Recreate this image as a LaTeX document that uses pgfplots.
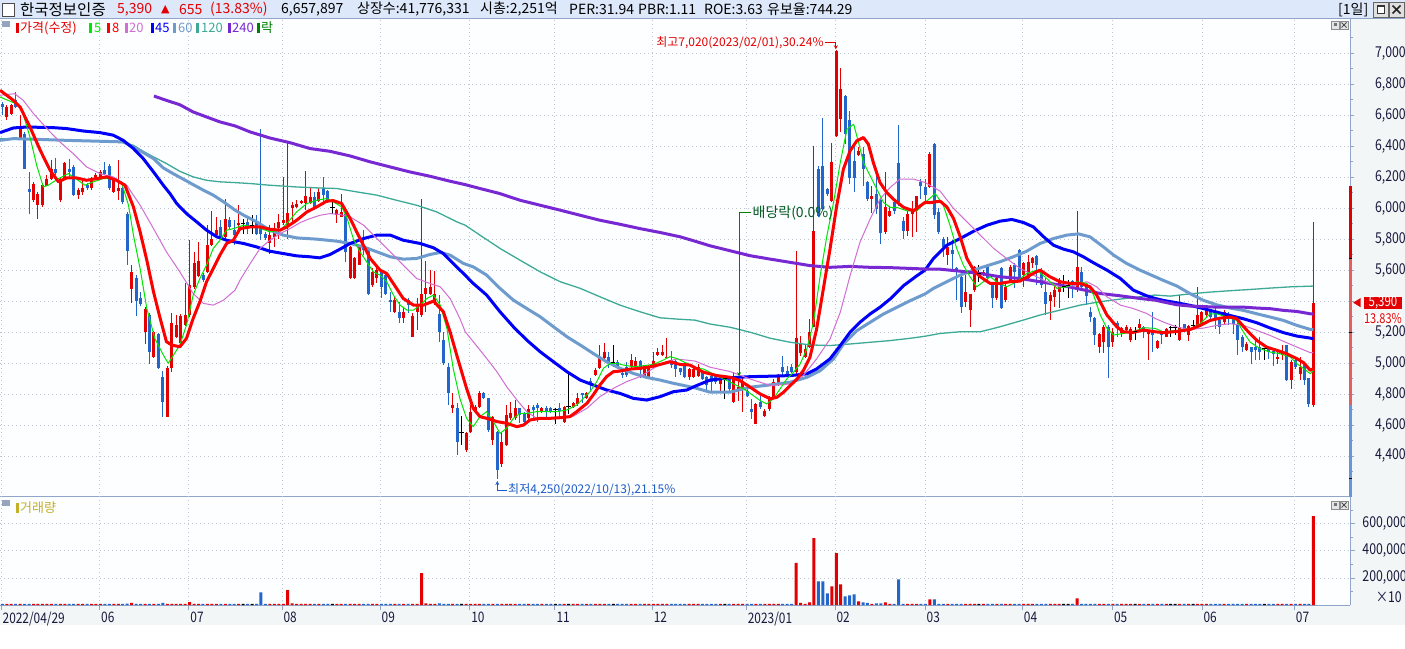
\documentclass[border=0pt]{standalone}
\usepackage{pgfplots}
\pgfplotsset{compat=1.18}
\usepackage{pgfplotstable}
\usetikzlibrary{arrows.meta}
\usepackage{fontspec}
\setmainfont{Noto Sans CJK KR}[FakeStretch=0.82]
\newfontfamily\hf{Noto Sans CJK KR}
\newfontfamily\sym{DejaVu Sans}
\newcommand\fs[1]{\fontsize{#1}{#1}\selectfont}
\definecolor{cred}{RGB}{228,0,0}
\definecolor{cblue}{RGB}{34,102,204}
\definecolor{maG}{RGB}{0,230,0}
\definecolor{maR}{RGB}{255,0,0}
\definecolor{maV}{RGB}{210,110,210}
\definecolor{maB}{RGB}{0,0,250}
\definecolor{maS}{RGB}{110,155,205}
\definecolor{maT}{RGB}{60,170,150}
\definecolor{maP}{RGB}{120,40,210}
\definecolor{gridc}{RGB}{190,196,206}
\definecolor{border}{RGB}{145,165,200}
\definecolor{headbg}{RGB}{221,232,250}
\definecolor{sidebg}{RGB}{242,246,247}
\definecolor{plotbg}{RGB}{252,254,255}
\definecolor{ticktext}{RGB}{25,25,60}
\definecolor{volgold}{RGB}{195,175,40}
\definecolor{annG}{RGB}{0,128,0}
\definecolor{annGT}{RGB}{0,90,30}
\definecolor{annB}{RGB}{30,90,200}
\definecolor{legsq}{RGB}{150,165,190}
\definecolor{limR}{RGB}{220,0,0}
\definecolor{limL}{RGB}{225,95,95}
\definecolor{limB}{RGB}{100,150,220}

\pgfplotstableread{
i o h l c v
1 6589 6664 6567 6653 8000
2 6610 6675 6600 6664 8000
4 6449 6599 6449 6524 8000
7 6051 6170 6040 6159 8000
8 6019 6105 5933 6094 8000
9 6019 6160 6010 6152 8000
10 6144 6212 6140 6191 8000
11 6191 6309 6185 6255 8000
13 6051 6200 6040 6191 8000
14 6191 6300 6185 6292 8000
17 6088 6127 6062 6116 8000
18 6105 6180 6084 6127 8000
20 6127 6200 6120 6191 8000
21 6191 6225 6185 6217 8000
22 6202 6245 6195 6234 8000
25 6105 6185 6095 6180 8000
26 6109 6314 6051 6127 8000
29 5477 5632 5385 5589 15000
32 5198 5360 5120 5352 8000
34 5039 5210 5030 5202 8000
37 4654 4980 4654 4965 8000
38 4965 5320 4944 5256 8000
39 5170 5310 5160 5245 8000
40 5127 5315 5120 5305 8000
41 5245 5514 5240 5310 8000
42 5310 5793 5300 5507 22000
43 5492 5718 5480 5643 8000
44 5563 5782 5555 5658 8000
46 5589 5890 5580 5765 8000
47 5761 5980 5755 5798 8000
48 5826 5944 5820 5858 8000
50 5815 6062 5805 5933 8000
53 5890 6023 5836 5907 8000
60 5772 5890 5707 5825 8000
61 5815 5901 5750 5868 8000
62 5875 5965 5804 5911 8000
63 5907 6202 5890 5924 8000
64 5890 6427 5804 5970 109000
65 6002 6041 5912 6019 12000
66 6008 6051 6000 6028 8000
67 6036 6055 6030 6045 8000
68 6036 6238 5987 6077 8000
69 6036 6127 6030 6073 8000
71 6045 6127 6040 6105 8000
75 5959 5995 5907 5987 8000
76 5944 6094 5940 5976 8000
78 5550 5755 5545 5750 8000
79 5550 5685 5545 5679 8000
80 5636 5755 5630 5750 8000
83 5503 5611 5492 5589 8000
84 5546 5632 5520 5600 8000
88 5331 5428 5320 5406 8000
90 5292 5363 5256 5331 8000
92 5170 5320 5165 5303 8000
93 5331 5417 5213 5374 8000
94 5310 6062 5299 5443 235000
95 5449 5658 5331 5482 12000
96 5449 5600 5440 5492 8000
97 5396 5593 5374 5443 8000
101 4707 4804 4675 4729 8000
104 4439 4555 4428 4546 8000
105 4557 4729 4550 4686 8000
106 4686 4729 4680 4718 8000
107 4718 4819 4710 4804 8000
110 4503 4660 4471 4654 8000
112 4346 4557 4331 4492 8000
113 4471 4729 4465 4664 8000
114 4643 4750 4635 4675 8000
115 4643 4761 4635 4708 8000
118 4643 4729 4635 4701 8000
121 4686 4715 4680 4708 8000
126 4622 4725 4611 4718 8000
128 4718 4750 4710 4740 8000
129 4733 4804 4725 4772 8000
131 4772 4815 4765 4804 8000
133 4922 4966 4915 4955 8000
134 4966 5116 4960 5041 8000
135 5030 5127 5020 5073 8000
141 4976 5056 4970 5019 8000
142 4976 5041 4970 5013 8000
144 4912 4987 4905 4983 8000
145 4912 4990 4905 4983 8000
146 4976 5073 4970 5015 8000
147 5051 5095 5045 5073 8000
148 5051 5116 5045 5073 8000
149 5030 5163 5025 5041 8000
154 4912 4970 4890 4959 8000
155 4912 4970 4905 4961 8000
156 4919 4994 4912 4973 8000
161 4865 4919 4812 4897 8000
164 4747 4940 4745 4897 8000
165 4822 4908 4758 4844 8000
166 4833 4908 4682 4876 8000
169 4607 4740 4605 4736 8000
171 4661 4704 4650 4693 8000
172 4704 4790 4693 4779 8000
173 4779 4897 4770 4876 8000
174 4855 4930 4850 4919 8000
178 4940 5725 4930 5160 311000
179 5065 5177 5048 5123 15000
180 5037 5123 5030 5091 8000
181 5102 5285 5095 5199 20000
182 5231 6402 5231 5854 494000
186 6048 6424 6040 6295 138000
187 6467 7020 6460 7015 383000
188 6575 6908 6489 6768 153000
192 6342 6392 6335 6366 27000
195 6058 6145 5972 6080 8000
198 5844 6231 5833 6005 20000
199 5951 6015 5945 5983 8000
203 5854 5983 5822 5962 8000
204 5962 6048 5811 5994 8000
205 5983 6080 5844 6076 8000
208 6137 6360 6127 6352 42000
212 5697 5815 5632 5750 8000
216 5396 5568 5363 5456 8000
217 5342 5449 5234 5443 8000
218 5471 5625 5460 5621 8000
220 5568 5600 5560 5589 8000
223 5417 5557 5406 5546 8000
225 5406 5525 5396 5492 8000
226 5525 5632 5514 5621 8000
229 5568 5654 5492 5643 8000
230 5546 5697 5540 5654 8000
231 5643 5686 5611 5675 8000
235 5400 5460 5277 5439 8000
236 5428 5514 5363 5471 8000
237 5460 5546 5357 5525 8000
241 5471 5983 5460 5621 49000
246 5105 5191 5062 5185 8000
247 5138 5245 5062 5234 8000
249 5138 5228 5105 5202 8000
251 5191 5234 5170 5224 8000
252 5213 5245 5205 5234 8000
253 5148 5234 5138 5219 8000
255 5228 5284 5202 5249 8000
257 5185 5213 5019 5202 8000
259 5097 5146 5092 5140 8000
261 5168 5225 5165 5222 8000
264 5146 5437 5140 5232 8000
266 5178 5243 5140 5239 8000
268 5239 5490 5232 5312 8000
269 5243 5335 5238 5329 8000
270 5308 5350 5300 5346 8000
274 5264 5340 5243 5329 8000
279 5082 5135 5075 5125 8000
286 5028 5071 4996 5039 8000
287 5054 5114 5017 5071 8000
289 4888 5017 4830 5006 8000
291 4931 5039 4888 4974 8000
294 4730 5910 4716 5390 657000
}\redT

\pgfplotstableread{
i o h l c v
0 6675 6685 6600 6653 8000
3 6696 6750 6645 6653 8000
5 6481 6490 6255 6255 8000
6 6126 6234 5965 6105 8000
12 6255 6324 6212 6230 8000
15 6255 6320 6202 6234 8000
16 6266 6277 6084 6088 8000
19 6148 6160 6120 6131 8000
23 6245 6298 6212 6223 8000
24 6273 6285 6120 6127 8000
27 6127 6135 6030 6040 8000
28 5965 5976 5636 5722 10000
30 5546 5568 5305 5400 8000
31 5423 5460 5370 5380 8000
33 5309 5320 4993 5073 8000
35 5185 5195 4960 4970 8000
36 4912 4948 4654 4750 15000
45 5568 5580 5525 5535 8000
49 5879 5922 5805 5815 8000
51 5922 5940 5860 5879 8000
52 5858 5922 5761 5825 8000
55 5912 5944 5836 5879 8000
57 5907 5955 5830 5836 8000
58 5873 6513 5793 5836 94000
59 5836 5845 5793 5808 8000
70 6073 6105 5990 5998 8000
72 6131 6202 6019 6084 8000
73 6109 6120 6036 6045 8000
77 5965 5998 5653 5714 8000
81 5761 5858 5697 5729 8000
82 5722 5730 5439 5449 8000
85 5589 5600 5417 5492 8000
86 5568 5575 5439 5449 8000
87 5406 5460 5331 5396 8000
89 5331 5396 5256 5292 8000
91 5406 5417 5320 5374 8000
98 5314 5439 5137 5202 12000
99 5148 5202 4987 4998 8000
100 4976 4998 4729 4804 8000
102 4707 4740 4406 4492 8000
108 4808 4815 4765 4772 8000
109 4772 4775 4557 4568 8000
111 4553 4560 4250 4310 8000
116 4708 4712 4611 4665 8000
117 4675 4686 4611 4622 8000
119 4718 4729 4643 4697 8000
120 4729 4740 4622 4708 8000
122 4712 4720 4643 4686 8000
123 4708 4715 4680 4686 8000
125 4712 4740 4654 4690 8000
130 4804 4808 4740 4794 8000
132 4884 4901 4826 4869 8000
136 5041 5073 4966 4998 8000
138 5008 5019 4960 4966 8000
139 4938 4966 4901 4922 8000
140 4976 5008 4912 4922 8000
143 5013 5019 4901 4955 8000
150 5019 5077 4966 4987 8000
151 5013 5019 4912 4961 8000
152 4966 4970 4922 4944 8000
153 4998 5008 4905 4912 8000
157 4940 4950 4890 4897 8000
158 4908 4915 4812 4855 8000
159 4919 4925 4812 4876 8000
160 4919 4930 4865 4876 8000
163 4908 4919 4812 4833 8000
167 4822 4833 4779 4790 8000
168 4704 4769 4640 4683 8000
170 4747 4790 4704 4715 8000
175 4973 5048 4919 4940 8000
176 4951 4984 4919 4930 8000
177 4973 4994 4935 4940 8000
183 6252 6274 5940 5951 175000
184 6274 6585 5990 5994 175000
185 6123 6130 6080 6091 86000
189 6725 6730 6413 6478 64000
190 6570 6628 6155 6198 72000
191 6306 6392 6102 6198 79000
193 6349 6392 6145 6252 20000
194 6166 6177 6048 6058 15000
196 6091 6252 5962 5994 12000
197 6054 6058 5768 5839 12000
200 6037 6048 5962 5983 8000
201 6291 6538 6015 6037 190000
202 5919 5940 5800 5854 8000
206 6166 6188 6058 6145 8000
207 6137 6191 6030 6084 8000
209 6417 6420 5933 5954 42000
210 5976 5998 5836 5847 8000
211 5804 5815 5686 5750 8000
213 5729 5793 5600 5707 8000
214 5615 5621 5406 5589 8000
215 5557 5568 5320 5363 8000
221 5621 5625 5535 5546 8000
222 5503 5514 5353 5417 8000
224 5615 5621 5350 5353 8000
227 5632 5643 5482 5589 8000
228 5729 5735 5525 5535 8000
232 5692 5697 5503 5632 8000
233 5600 5611 5482 5503 8000
234 5460 5546 5310 5378 8000
240 5529 5535 5417 5514 8000
242 5585 5621 5471 5492 8000
243 5492 5503 5374 5434 8000
244 5331 5363 5267 5299 8000
245 5292 5299 5116 5181 8000
248 5234 5245 4905 5105 8000
250 5256 5271 5170 5224 8000
256 5234 5238 5159 5202 8000
258 5204 5329 5071 5179 8000
260 5200 5204 5125 5183 8000
265 5249 5252 5200 5211 8000
271 5340 5344 5286 5297 8000
272 5333 5376 5221 5275 8000
273 5275 5286 5189 5232 8000
275 5312 5329 5243 5286 8000
276 5297 5308 5189 5254 8000
277 5254 5264 5054 5146 8000
278 5168 5178 5071 5103 8000
280 5103 5105 4996 5071 8000
281 5103 5157 5017 5082 8000
282 5103 5168 5017 5071 8000
284 5103 5105 5028 5071 8000
285 5077 5097 4981 5056 8000
288 5114 5118 4885 4888 8000
290 5017 5028 4964 4974 8000
292 4985 5006 4856 4888 8000
293 4903 4905 4716 4735 8000
}\blueT

\pgfplotstableread{
i c h l v
54 5901 5933 5836 8000
56 5890 5955 5836 8000
74 6004 6051 5965 8000
103 4553 4660 4471 8000
124 4701 4708 4604 8000
127 4718 4933 4669 8000
137 5002 5116 4976 8000
162 4897 4908 4769 8000
219 5578 5632 5525 8000
238 5492 5568 5460 8000
239 5499 5535 5417 8000
254 5202 5234 5148 8000
262 5228 5239 5168 8000
263 5232 5243 5178 8000
267 5243 5275 5232 8000
283 5092 5095 5017 8000
}\dojiT

\begin{document}
\begin{tikzpicture}[x=1pt,y=1pt]
\useasboundingbox (0,0) rectangle (1405,648);
\fill[white] (0,0) rectangle (1405,648);
\fill[plotbg] (0,43) rectangle (1350,629);
\fill[sidebg] (1350,23) rectangle (1405,629);
\fill[sidebg] (0,23) rectangle (1350,43);
\fill[headbg] (0,629) rectangle (1405,648);
% frame lines (drawn first, below the plots)
\draw[border, line width=1pt] (0,151) -- (1350,151);
\draw[border, line width=1pt] (0,43) -- (1350,43);
\draw[border, line width=1pt] (1350,43) -- (1350,629);
\draw[border, line width=1pt] (0,629) -- (1405,629);

% ---------------- price panel
\begin{axis}[at={(0pt,151pt)}, anchor=south west, scale only axis,
  width=1350pt, height=478pt,
  xmin=-0.52, xmax=302.2, ymin=4135, ymax=7221.5, clip=false,
  axis line style={draw=none},
  xtick={-0.3,21.8,41.8,62.7,84.7,104.8,123.9,145.7,166.8,186.7,206.9,228.7,248.9,269.0,289.7},
  xticklabels={}, xmajorgrids, ymajorgrids,
  ytick={4400,4600,...,7000}, minor ytick={4300,4500,...,7100},
  yticklabels={4{,}400,4{,}600,4{,}800,5{,}000,5{,}200,{},5{,}600,5{,}800,6{,}000,6{,}200,6{,}400,6{,}600,6{,}800,7{,}000},
  xtick pos=bottom, ytick pos=right, tick align=outside, major tick length=4pt, minor tick length=3pt,
  tick style={border, line width=0.8pt},
  major x tick style={draw=none},
  yticklabel style={anchor=east, inner sep=0pt, xshift=52pt, font=\fs{15}, text=ticktext},
  grid style={gridc, line width=0.8pt, dash pattern=on 0.8pt off 3.2pt},
  every axis plot/.append style={line join=round},
]
% candles: wicks and bodies
\addplot[draw=none, mark=none, forget plot, error bars/.cd, y dir=both, y explicit, error mark=none,
  error bar style={draw=cred, line width=1pt}]
  table[x=i, y=c, y error plus expr=\thisrow{h}-\thisrow{c}, y error minus expr=\thisrow{c}-\thisrow{l}]{\redT};
\addplot[draw=none, mark=none, forget plot, error bars/.cd, y dir=minus, y explicit, error mark=none,
  error bar style={draw=cred, line width=3pt}]
  table[x=i, y=c, y error minus expr=\thisrow{c}-\thisrow{o}]{\redT};
\addplot[draw=none, mark=none, forget plot, error bars/.cd, y dir=both, y explicit, error mark=none,
  error bar style={draw=cblue, line width=1pt}]
  table[x=i, y=c, y error plus expr=\thisrow{h}-\thisrow{c}, y error minus expr=\thisrow{c}-\thisrow{l}]{\blueT};
\addplot[draw=none, mark=none, forget plot, error bars/.cd, y dir=plus, y explicit, error mark=none,
  error bar style={draw=cblue, line width=3pt}]
  table[x=i, y=c, y error plus expr=\thisrow{o}-\thisrow{c}]{\blueT};
\addplot[only marks, mark=-, mark size=2.2pt, mark options={black, line width=1pt}, forget plot,
  error bars/.cd, y dir=both, y explicit, error mark=none, error bar style={draw=black, line width=1pt}]
  table[x=i, y=c, y error plus expr=\thisrow{h}-\thisrow{c}, y error minus expr=\thisrow{c}-\thisrow{l}]{\dojiT};

% moving averages
\addplot[maT, line width=1.3pt, mark=none] coordinates {(-0.5,6449)(7.0,6445)(14.4,6438)(21.9,6432)(27.1,6423)(29.4,6406)(31.6,6367)(33.9,6331)(36.8,6288)(39.8,6238)(42.8,6202)(45.8,6180)(48.8,6170)(52.2,6165)(55.6,6159)(60.0,6148)(66.0,6137)(70.5,6131)(75.0,6127)(79.5,6105)(84.0,6084)(88.4,6051)(92.9,6019)(97.4,5976)(101.9,5912)(103.8,5890)(107.1,5826)(111.6,5740)(116.1,5664)(120.6,5589)(125.1,5525)(129.6,5482)(134.0,5428)(138.5,5374)(143.0,5331)(147.5,5292)(151.2,5284)(155.3,5277)(158.7,5252)(163.2,5231)(167.7,5199)(172.2,5160)(176.7,5134)(181.1,5117)(185.6,5113)(190.1,5123)(194.6,5134)(199.1,5145)(203.6,5160)(206.9,5173)(210.3,5191)(214.8,5202)(219.3,5202)(223.7,5234)(228.2,5271)(232.7,5310)(237.2,5342)(241.7,5374)(246.2,5396)(250.7,5413)(255.1,5428)(258.5,5439)(261.9,5432)(266.4,5447)(270.8,5458)(275.3,5467)(279.8,5475)(284.3,5484)(288.8,5492)(294.0,5497)};
\addplot[maS, line width=3pt, mark=none] coordinates {(-0.5,6438)(2.5,6449)(7.0,6445)(14.4,6438)(21.9,6432)(27.1,6428)(29.4,6395)(31.6,6359)(33.9,6320)(36.1,6260)(38.3,6223)(40.6,6187)(42.8,6152)(45.1,6116)(47.3,6084)(49.6,6041)(52.2,5987)(54.1,5955)(57.0,5912)(60.0,5858)(63.0,5826)(66.0,5808)(70.5,5800)(75.0,5787)(78.0,5772)(81.0,5750)(84.0,5718)(87.0,5686)(89.9,5671)(92.9,5675)(95.9,5701)(98.2,5714)(100.4,5697)(103.4,5643)(105.6,5621)(108.6,5568)(111.6,5482)(114.6,5406)(117.6,5352)(120.6,5299)(123.6,5234)(126.6,5170)(129.6,5116)(132.5,5062)(135.5,5008)(138.5,4966)(141.5,4933)(144.5,4907)(147.5,4890)(150.5,4869)(155.3,4840)(158.7,4812)(163.2,4812)(167.7,4844)(172.2,4859)(176.7,4876)(180.4,4908)(183.4,4951)(186.4,5027)(188.6,5123)(191.6,5209)(194.6,5263)(197.6,5317)(200.6,5360)(203.6,5403)(206.9,5446)(208.8,5482)(211.8,5525)(214.8,5568)(217.8,5600)(220.8,5628)(223.7,5654)(226.7,5686)(229.7,5722)(232.7,5772)(235.7,5804)(238.7,5826)(241.3,5834)(243.9,5815)(246.9,5750)(249.2,5697)(252.1,5643)(255.1,5600)(258.5,5557)(260.4,5533)(263.4,5497)(266.4,5447)(269.4,5404)(272.3,5376)(275.3,5355)(278.3,5340)(281.3,5318)(284.3,5297)(287.3,5275)(290.3,5243)(293.3,5217)(294.0,5217)};
\addplot[maB, line width=3pt, mark=none] coordinates {(-0.5,6488)(2.5,6518)(5.5,6524)(11.4,6520)(14.4,6514)(18.2,6498)(21.9,6488)(24.9,6471)(27.1,6438)(29.4,6385)(31.6,6320)(33.9,6234)(36.1,6148)(37.6,6094)(39.1,6030)(41.3,5965)(43.6,5911)(45.8,5858)(48.1,5815)(50.3,5793)(52.2,5782)(54.1,5772)(57.0,5750)(60.0,5722)(63.0,5707)(66.0,5692)(69.0,5686)(71.2,5679)(73.5,5701)(75.7,5735)(78.0,5772)(81.0,5804)(84.0,5826)(87.0,5826)(89.9,5793)(93.7,5772)(96.7,5744)(98.9,5707)(101.1,5643)(103.4,5578)(105.6,5514)(108.6,5439)(111.6,5331)(114.6,5234)(117.6,5148)(120.6,5073)(123.6,5008)(126.6,4944)(129.6,4890)(132.5,4858)(135.5,4826)(138.5,4804)(141.5,4772)(144.5,4761)(147.5,4783)(150.5,4815)(153.5,4826)(155.3,4850)(158.7,4890)(163.2,4905)(167.7,4912)(172.2,4915)(176.7,4919)(180.4,4930)(182.6,4962)(185.6,5027)(187.9,5113)(190.1,5199)(192.3,5263)(194.6,5317)(196.8,5360)(199.1,5414)(202.1,5500)(205.1,5564)(206.9,5600)(208.8,5675)(211.8,5761)(214.8,5804)(217.8,5851)(220.8,5890)(223.7,5916)(226.4,5927)(229.0,5907)(231.2,5879)(233.5,5815)(235.7,5761)(238.0,5735)(240.2,5718)(242.4,5686)(244.7,5647)(247.7,5600)(250.7,5546)(253.6,5471)(256.6,5434)(258.5,5417)(260.4,5404)(263.4,5389)(266.4,5372)(269.4,5351)(272.3,5329)(275.3,5307)(278.3,5286)(281.3,5260)(284.3,5226)(287.3,5196)(290.3,5174)(293.3,5161)(294.0,5157)};
\addplot[maP, line width=3pt, mark=none] coordinates {(34.0,6724)(36.8,6696)(39.8,6668)(42.8,6621)(45.8,6589)(48.8,6557)(52.2,6531)(55.6,6492)(60.0,6453)(64.5,6423)(69.0,6385)(73.5,6367)(78.0,6337)(82.5,6299)(87.0,6266)(91.4,6234)(95.9,6206)(100.4,6174)(103.8,6152)(107.1,6127)(111.6,6094)(116.1,6051)(120.6,6019)(125.1,5987)(129.6,5954)(134.0,5922)(138.5,5896)(143.0,5868)(147.5,5843)(152.0,5815)(155.3,5787)(158.7,5757)(163.2,5725)(167.7,5693)(172.2,5671)(176.7,5650)(181.1,5629)(185.6,5618)(190.1,5624)(194.6,5618)(199.1,5616)(203.6,5611)(206.9,5607)(210.3,5606)(214.8,5593)(219.3,5578)(223.7,5557)(228.2,5546)(232.7,5525)(237.2,5503)(241.7,5477)(246.2,5449)(250.7,5434)(255.1,5417)(258.5,5406)(260.4,5394)(263.4,5376)(266.4,5368)(272.3,5361)(278.3,5361)(281.3,5355)(284.3,5351)(287.3,5340)(290.3,5333)(293.3,5318)(294.0,5318)};
\addplot[maV, line width=1pt, mark=none] coordinates {(-0.5,6729)(2.8,6739)(4.7,6696)(7.0,6610)(10.0,6514)(12.9,6428)(15.9,6352)(18.9,6266)(21.9,6223)(24.9,6202)(27.9,6148)(30.9,6019)(33.9,5868)(36.8,5718)(39.8,5589)(42.8,5449)(45.1,5385)(47.3,5374)(49.6,5406)(52.2,5471)(53.3,5535)(55.6,5643)(57.8,5740)(60.0,5793)(62.3,5836)(64.5,5868)(66.8,5907)(69.0,5933)(71.2,5954)(73.5,5965)(75.7,5959)(78.0,5944)(81.0,5890)(84.0,5804)(87.0,5718)(89.9,5632)(92.9,5546)(95.9,5514)(98.2,5492)(100.4,5417)(102.6,5288)(103.8,5202)(105.6,5138)(108.6,5030)(110.9,4944)(113.1,4847)(115.4,4761)(117.6,4686)(119.8,4643)(122.1,4639)(125.1,4654)(128.1,4658)(131.1,4708)(134.0,4783)(137.0,4836)(140.0,4880)(143.0,4912)(146.0,4966)(149.0,5008)(151.2,5026)(155.3,5013)(158.7,4973)(163.2,4945)(167.7,4897)(172.2,4855)(176.7,4865)(179.6,4919)(182.6,5027)(185.6,5155)(187.9,5328)(190.1,5564)(192.3,5779)(194.6,5930)(196.8,6058)(199.1,6134)(201.3,6188)(204.3,6188)(206.9,6166)(210.3,6110)(213.3,5998)(216.3,5912)(219.3,5826)(222.3,5740)(225.2,5675)(228.2,5611)(231.2,5568)(234.2,5525)(237.2,5492)(240.2,5499)(243.2,5525)(245.4,5492)(247.7,5428)(250.7,5374)(253.6,5352)(256.6,5320)(258.5,5288)(260.4,5264)(263.4,5232)(266.4,5217)(269.4,5226)(272.3,5243)(275.3,5254)(278.3,5243)(281.3,5211)(284.3,5178)(287.3,5140)(290.3,5103)(293.3,5067)(294.0,5067)};
\addplot[maG, line width=1pt, mark=none] coordinates {(-0.5,6718)(3.0,6675)(4.3,6642)(6.2,6460)(7.7,6277)(9.2,6137)(10.3,6148)(12.6,6191)(14.8,6223)(17.0,6180)(18.5,6148)(20.4,6170)(22.6,6191)(24.9,6191)(26.8,6159)(28.3,6019)(29.4,5826)(30.9,5610)(32.4,5352)(34.2,5159)(36.1,5052)(37.2,4998)(38.4,5052)(39.8,5116)(41.3,5245)(42.8,5439)(44.3,5546)(45.8,5632)(47.3,5740)(48.8,5793)(50.3,5858)(51.8,5868)(54.1,5890)(57.0,5879)(60.0,5847)(62.3,5858)(63.8,5901)(66.0,5976)(68.3,6030)(70.5,6051)(72.7,6062)(74.2,6041)(76.1,6008)(77.2,5944)(78.7,5804)(80.2,5718)(81.7,5654)(83.2,5589)(84.7,5568)(86.2,5525)(87.7,5439)(89.2,5374)(90.7,5342)(92.2,5342)(93.7,5374)(95.2,5417)(96.7,5439)(98.2,5374)(99.7,5224)(101.1,4966)(102.6,4772)(104.1,4643)(105.6,4589)(107.1,4654)(108.6,4686)(110.1,4622)(111.6,4546)(113.1,4579)(114.6,4643)(116.1,4675)(117.6,4675)(119.8,4686)(122.1,4686)(124.3,4686)(126.6,4697)(128.8,4729)(130.3,4772)(131.8,4815)(133.3,4880)(134.8,4966)(136.3,4998)(137.8,4998)(139.3,4987)(141.5,4976)(143.8,4983)(146.0,4991)(148.2,5019)(149.7,5041)(151.2,5030)(153.5,4998)(155.3,4966)(157.2,4962)(160.2,4919)(163.2,4876)(166.2,4833)(168.4,4790)(169.9,4758)(171.4,4736)(172.9,4769)(174.4,4833)(175.9,4897)(177.4,4940)(178.9,4994)(180.4,5091)(181.9,5263)(183.4,5564)(184.9,5822)(186.4,6037)(187.9,6295)(189.4,6510)(190.9,6542)(192.0,6424)(193.1,6295)(194.6,6209)(196.1,6123)(197.6,6037)(199.1,6005)(200.6,6005)(202.8,5983)(205.1,5983)(207.0,6038)(209.2,6094)(211.0,6019)(212.5,5890)(214.0,5740)(215.5,5632)(217.0,5557)(218.5,5492)(220.0,5525)(221.5,5557)(223.0,5525)(225.2,5492)(227.5,5525)(229.7,5578)(232.0,5600)(234.2,5546)(236.5,5482)(238.7,5492)(240.9,5525)(243.2,5514)(244.7,5439)(246.2,5310)(247.7,5224)(249.2,5181)(251.4,5191)(253.6,5202)(255.9,5228)(258.5,5224)(260.4,5200)(263.4,5211)(266.4,5222)(268.6,5254)(270.8,5318)(272.3,5318)(274.6,5297)(276.8,5275)(278.3,5200)(279.8,5135)(282.1,5092)(284.3,5071)(286.5,5060)(288.8,5039)(290.3,4996)(291.8,4964)(293.3,4931)(294.0,4953)};
\addplot[maR, line width=3pt, mark=none] coordinates {(-0.5,6761)(2.5,6696)(4.0,6653)(6.2,6524)(8.5,6374)(10.7,6245)(12.6,6170)(14.4,6195)(16.7,6195)(18.9,6180)(21.2,6191)(23.4,6202)(25.6,6180)(27.5,6148)(29.4,6008)(30.9,5847)(32.4,5664)(33.9,5460)(35.4,5288)(36.8,5138)(38.0,5116)(39.8,5105)(41.3,5159)(42.8,5288)(44.3,5396)(45.8,5525)(47.3,5611)(48.8,5697)(50.3,5772)(51.8,5793)(53.3,5868)(55.6,5879)(57.8,5879)(60.0,5864)(62.3,5858)(63.8,5879)(66.0,5922)(68.3,5976)(70.5,6008)(72.7,6045)(74.2,6049)(76.1,6030)(78.0,5933)(80.2,5804)(82.5,5675)(84.7,5600)(86.2,5578)(88.4,5482)(89.9,5417)(92.2,5374)(94.4,5374)(96.7,5400)(98.9,5331)(100.4,5202)(101.9,5051)(104.1,4836)(105.6,4707)(107.1,4654)(108.6,4643)(110.9,4622)(113.1,4611)(115.4,4589)(116.9,4600)(118.3,4632)(120.6,4643)(122.8,4643)(125.1,4647)(127.3,4654)(128.8,4686)(131.1,4740)(132.5,4794)(134.0,4858)(135.5,4912)(137.0,4944)(138.5,4948)(140.8,4961)(143.0,4966)(145.3,4976)(147.5,4991)(149.7,5008)(152.0,4991)(154.2,4987)(157.2,4941)(160.2,4919)(163.2,4908)(165.4,4887)(167.7,4844)(169.9,4801)(172.2,4769)(173.7,4779)(175.2,4812)(176.7,4855)(178.2,4897)(179.6,4951)(181.1,5037)(182.6,5220)(184.1,5478)(185.6,5736)(187.1,6015)(188.6,6252)(190.1,6370)(191.6,6435)(193.1,6456)(194.2,6413)(195.3,6295)(196.8,6166)(198.3,6102)(199.8,6058)(202.1,6005)(204.3,5983)(206.9,6037)(208.1,6036)(210.3,6045)(211.8,6008)(213.3,5933)(214.8,5815)(216.3,5675)(217.8,5600)(219.3,5557)(221.5,5514)(223.7,5514)(226.0,5525)(228.2,5529)(230.5,5568)(232.7,5600)(234.9,5557)(237.2,5525)(239.4,5514)(241.7,5514)(243.9,5492)(245.4,5439)(247.7,5310)(249.9,5234)(251.4,5202)(253.6,5198)(255.9,5213)(258.5,5202)(260.4,5196)(263.4,5204)(266.4,5217)(268.6,5243)(270.8,5275)(273.1,5290)(275.3,5297)(276.8,5286)(279.1,5211)(281.3,5146)(283.5,5103)(285.8,5082)(288.0,5060)(290.3,5028)(291.8,5002)(293.3,4953)(294.0,4964)};

% price-limit bar on the right axis
\addplot[limB, line width=3pt, mark=none, forget plot] coordinates {(302.4,4137)(302.4,4729)};
\addplot[limL, line width=3pt, mark=none, forget plot] coordinates {(302.4,4729)(302.4,5676)};
\addplot[limR, line width=3pt, mark=none, forget plot] coordinates {(302.4,5676)(302.4,6145)};
\addplot[black, line width=1pt, mark=none, forget plot] coordinates {(302.05,5676)(302.75,5676)};
\addplot[black, line width=1pt, mark=none, forget plot] coordinates {(302.05,5199)(302.75,5199)};
\addplot[black, line width=1pt, mark=none, forget plot] coordinates {(302.05,4256)(302.75,4256)};

% current price marker
\fill[cred] (axis cs:302.9,5390) -- (axis cs:304.6,5420) -- (axis cs:304.6,5360) -- cycle;
\node[fill=cred, text=white, inner sep=0pt, minimum width=38pt, minimum height=12pt, text height=9pt, text depth=1pt, font=\fs{14}] at (axis cs:309.6,5390) {5,390};
\node[fill=white, text=cred, inner sep=0.3pt, text height=9pt, text depth=1.5pt, font=\fs{13.5}] at (axis cs:309.6,5280) {13.83\%};

% annotations
\node[anchor=east, inner sep=0pt, text=cred, font=\hf\fs{12}] at (axis cs:184.2,7070) {최고7,020(2023/02/01),30.24\%};
\draw[cred, line width=0.8pt, -{Stealth[length=4pt,width=4pt]}] (axis cs:184.5,7070) -- (axis cs:186.9,7070) -- (axis cs:186.9,7026);
\draw[annG, line width=0.8pt, -{Stealth[length=4pt,width=4pt]}] (axis cs:167.8,5971) -- (axis cs:165.2,5971) -- (axis cs:165.2,4915);
\node[anchor=west, inner sep=0pt, text=annGT, font=\hf\fs{14}] at (axis cs:168.2,5971) {배당락(0.0\%)};
\draw[annB, line width=0.8pt, -{Stealth[length=4pt,width=4pt]}] (axis cs:113.2,4180) -- (axis cs:111,4180) -- (axis cs:111,4238);
\node[anchor=west, inner sep=0pt, text=annB, font=\hf\fs{12}] at (axis cs:113.4,4180) {최저4,250(2022/10/13),21.15\%};
\end{axis}

% ---------------- volume panel
\begin{axis}[at={(0pt,43pt)}, anchor=south west, scale only axis,
  width=1350pt, height=108pt,
  xmin=-0.52, xmax=302.2, ymin=0, ymax=797800,
  axis line style={draw=none}, scaled y ticks=false,
  xtick={-0.3,21.8,41.8,62.7,84.7,104.8,123.9,145.7,166.8,186.7,206.9,228.7,248.9,269.0,289.7},
  xticklabels={2022/04/29,06,07,08,09,10,11,12,2023/01,02,03,04,05,06,07},
  xtick pos=bottom, xmajorgrids, ymajorgrids,
  ytick={200000,400000,600000}, yticklabels={200{,}000,400{,}000,600{,}000},
  minor ytick={100000,300000,500000,700000},
  ytick pos=right, tick align=outside, major tick length=5pt, minor tick length=3pt,
  tick style={border, line width=0.8pt},
  yticklabel style={anchor=east, inner sep=0pt, xshift=52pt, font=\fs{15}, text=ticktext},
  xticklabel style={anchor=north west, inner sep=0pt, xshift=1.5pt, yshift=-1.5pt, font=\fs{14.5}, text=ticktext},
  grid style={gridc, line width=0.8pt, dash pattern=on 0.8pt off 3.2pt},
]
\addplot[ybar, bar width=3pt, bar shift=0pt, fill=cred, draw=none] table[x=i, y=v]{\redT};
\addplot[ybar, bar width=3pt, bar shift=0pt, fill=cblue, draw=none] table[x=i, y=v]{\blueT};
\addplot[ybar, bar width=3pt, bar shift=0pt, fill=black, draw=none] table[x=i, y=v]{\dojiT};
\end{axis}

\node[anchor=east, inner sep=0pt, text=ticktext, font=\fs{15}] at (1402,51) {×10};

% ---------------- header
\draw[black!70, fill=white, line width=0.8pt] (2.5,632) rectangle (14.5,645);
\begin{scope}[every node/.style={anchor=west, inner sep=0pt}]
\node[font=\hf\fs{15.5}] at (20,638.5) {한국정보인증};
\node[text=cred, font=\hf\fs{14}] at (117,638.5) {5,390};
\node[text=cred, font=\sym\fs{11}] at (161,638.5) {▲};
\node[text=cred, font=\hf\fs{14}] at (179,638.5) {655};
\node[text=cred, font=\hf\fs{14}] at (210,638.5) {(13.83\%)};
\node[font=\hf\fs{14}] at (281,638.5) {6,657,897};
\node[font=\hf\fs{14}] at (357,638.5) {상장수:41,776,331};
\node[font=\hf\fs{14}] at (480,638.5) {시총:2,251억};
\node[font=\hf\fs{14}] at (569,638.5) {PER:31.94};
\node[font=\hf\fs{14}] at (638,638.5) {PBR:1.11};
\node[font=\hf\fs{14}] at (704,638.5) {ROE:3.63};
\node[font=\hf\fs{14}] at (767,638.5) {유보율:744.29};
\node[font=\hf\fs{14}] at (1338,638.5) {[1일]};
\end{scope}
\draw[black!60, fill=black!12] (1373,631) rectangle (1388,646);
\draw[black!80, fill=white, line width=1pt] (1377,634.5) rectangle (1384,642.5);
\fill[black!80] (1377,640.5) rectangle (1384,642.5);
\draw[black!60, fill=black!12] (1389,631) rectangle (1404,646);
\draw[black!85, line width=1.6pt] (1392.5,634.5) -- (1400.5,642.5) (1392.5,642.5) -- (1400.5,634.5);

% ---------------- legend rows
\fill[legsq] (2,621) rectangle (10,627);
\begin{scope}[every node/.style={anchor=west, inner sep=0pt, font=\hf\fs{13}}]
\fill[cred] (16,615) rectangle (19,625); \node[text=cred] at (20,620) {가격(수정)};
\fill[maG] (89,615) rectangle (92,625); \node[text=maG] at (94,620) {5};
\fill[maR] (107,615) rectangle (110,625); \node[text=maR] at (112,620) {8};
\fill[maV] (125,615) rectangle (128,625); \node[text=maV] at (129,620) {20};
\fill[maB] (151,615) rectangle (154,625); \node[text=maB] at (155,620) {45};
\fill[maS] (173,615) rectangle (176,625); \node[text=maS] at (178,620) {60};
\fill[maT] (196,615) rectangle (199,625); \node[text=maT] at (201,620) {120};
\fill[maP] (228,615) rectangle (231,625); \node[text=maP] at (232,620) {240};
\fill[annG] (257,615) rectangle (260,625); \node[text=annG] at (261,620) {락};
\fill[legsq] (2,142) rectangle (10,148);
\fill[volgold] (16,135) rectangle (19,145); \node[text=volgold] at (20,140) {거래량};
\end{scope}
% panel buttons
\foreach \yy in {620,140}{
  \draw[black!45, fill=black!10] (1331,\yy-1) rectangle (1339,\yy+7);
  \fill[black!55] (1333.5,\yy+1.5) rectangle (1336.5,\yy+4.5);
  \draw[black!45, fill=black!10] (1340,\yy-1) rectangle (1348,\yy+7);
  \draw[black!70, line width=0.8pt] (1341.5,\yy+0.5) -- (1346.5,\yy+5.5) (1341.5,\yy+5.5) -- (1346.5,\yy+0.5);
}
\end{tikzpicture}
\end{document}
